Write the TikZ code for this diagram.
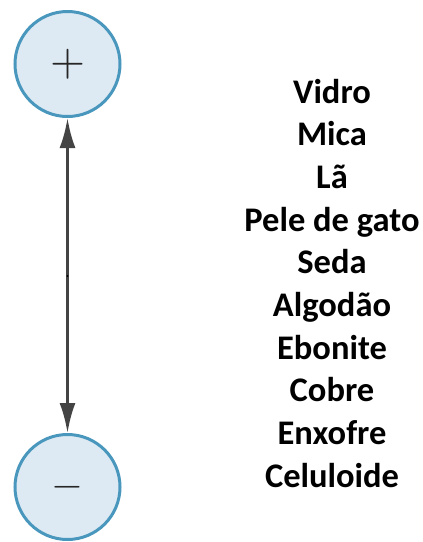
\documentclass[tikz,border=0pt]{standalone}
\usepackage{fontspec}
\setmainfont{Carlito}
\usetikzlibrary{arrows.meta}
\definecolor{polofill}{HTML}{DDEAF3}
\definecolor{poloborda}{HTML}{4A97BE}
\definecolor{seta}{HTML}{444444}

\begin{document}
\begin{tikzpicture}[x=1pt,y=-1pt,
    polo/.style={circle, draw=poloborda, fill=polofill, line width=3pt, minimum size=105pt, inner sep=0pt, text=black!85},
    seta/.style={draw=seta, line width=3pt, -{Latex[length=30pt,width=16pt]}},
    material/.style={font=\bfseries\fontsize{34.5}{40}\selectfont, anchor=base, inner sep=0pt}]
        \useasboundingbox (0,0) rectangle (423,542);

        % polos
        \node[polo] (pos) at (67.5,64) {\scalebox{4.5}{$+$}};
        \node[polo] (neg) at (67.5,487) {\scalebox{4.1}{$-$}};

        % seta dupla
        \coordinate (meio) at (67.5,276);
        \draw[seta] (meio) -- (pos);
        \draw[seta] (meio) -- (neg);
        \fill[black] (meio) circle (1.2pt);

        % série triboelétrica
        \foreach \nome [count=\i from 0] in {Vidro,Mica,Lã,Pele de gato,Seda,Algodão,Ebonite,Cobre,Enxofre,Celuloide}
            \node[material] (mat\i) at (332,103+42.67*\i) {\nome};
    \end{tikzpicture}
\end{document}
